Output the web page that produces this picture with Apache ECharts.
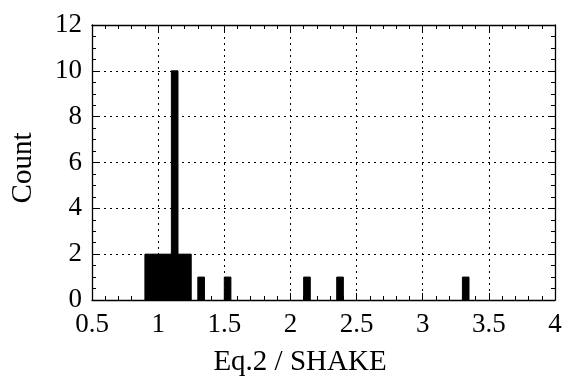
<!DOCTYPE html>
<html>
<head>
<meta charset="utf-8">
<script src="https://cdn.jsdelivr.net/npm/echarts@6/dist/echarts.min.js"></script>
<style>html,body{margin:0;padding:0;background:#fff}#c{width:568px;height:376px}</style>
</head>
<body>
<div id="c"></div>
<script>
// Histogram bins (left edge, right edge) and counts
const binLeft  = [0.90, 0.95, 1.00, 1.05, 1.10, 1.15, 1.20, 1.30, 1.50, 2.10, 2.35, 3.30];
const binRight = [0.95, 1.00, 1.05, 1.10, 1.15, 1.20, 1.25, 1.35, 1.55, 2.15, 2.40, 3.35];
const counts   = [2, 2, 2, 2, 10, 2, 2, 1, 1, 1, 1, 1];
const xTicks = [0.5, 1, 1.5, 2, 2.5, 3, 3.5, 4];
const yTicks = [0, 2, 4, 6, 8, 10, 12];
const xTitle = 'Eq.2 / SHAKE';
const yTitle = 'Count';

const data = binLeft.map((l, i) => [l, binRight[i], counts[i]]);
const font = 'Liberation Serif';
const chart = echarts.init(document.getElementById('c'), null, {renderer: 'canvas'});

function axisCommon() {
  return {
    axisLine: {show: true, onZero: false, lineStyle: {color: '#000', width: 1.3}},
    axisTick: {show: true, inside: true, length: 7, lineStyle: {color: '#000', width: 1}},
    splitLine: {show: false},
    axisLabel: {show: false}
  };
}

chart.setOption({
  animation: false,
  backgroundColor: '#fff',
  grid: {left: 92, right: 13, top: 25, bottom: 76},
  xAxis: [
    Object.assign(axisCommon(), {
      type: 'value', min: xTicks[0], max: xTicks[xTicks.length - 1], interval: 0.5,
      position: 'bottom',
      minorTick: {show: true, splitNumber: 5, length: 4, lineStyle: {color: '#000', width: 1}},
      splitLine: {show: true, lineStyle: {color: '#000', type: [2, 4], width: 1}},
      axisLabel: {show: true, color: '#000', fontFamily: font, fontSize: 27, margin: 11}
    }),
    Object.assign(axisCommon(), {
      type: 'value', min: xTicks[0], max: xTicks[xTicks.length - 1], interval: 0.5,
      position: 'top',
      minorTick: {show: true, splitNumber: 5, length: 4, lineStyle: {color: '#000', width: 1}}
    })
  ],
  yAxis: [
    Object.assign(axisCommon(), {
      type: 'value', min: yTicks[0], max: yTicks[yTicks.length - 1], interval: 2,
      position: 'left',
      minorTick: {show: true, splitNumber: 4, length: 4, lineStyle: {color: '#000', width: 1}},
      splitLine: {show: true, lineStyle: {color: '#000', type: [2, 4], width: 1}},
      axisLabel: {show: true, color: '#000', fontFamily: font, fontSize: 27, margin: 10}
    }),
    Object.assign(axisCommon(), {
      type: 'value', min: yTicks[0], max: yTicks[yTicks.length - 1], interval: 2,
      position: 'right',
      minorTick: {show: true, splitNumber: 4, length: 4, lineStyle: {color: '#000', width: 1}}
    })
  ],
  graphic: [
    {type: 'text', x: 300, y: 362, style: {text: xTitle, font: '29px "Liberation Serif"', fill: '#000', textAlign: 'center', textVerticalAlign: 'middle'}},
    {type: 'text', x: 23, y: 168, rotation: Math.PI / 2, style: {text: yTitle, font: '29px "Liberation Serif"', fill: '#000', textAlign: 'center', textVerticalAlign: 'middle'}}
  ],
  series: [{
    type: 'custom',
    xAxisIndex: 0, yAxisIndex: 0,
    data: data,
    z: 5,
    renderItem: function (params, api) {
      const p0 = api.coord([api.value(0), api.value(2)]);
      const p1 = api.coord([api.value(1), 0]);
      return {type: 'rect', shape: {x: p0[0], y: p0[1], width: p1[0] - p0[0], height: p1[1] - p0[1]},
              style: {fill: '#000', stroke: '#000', lineWidth: 1}};
    }
  }]
});
</script>
</body>
</html>
